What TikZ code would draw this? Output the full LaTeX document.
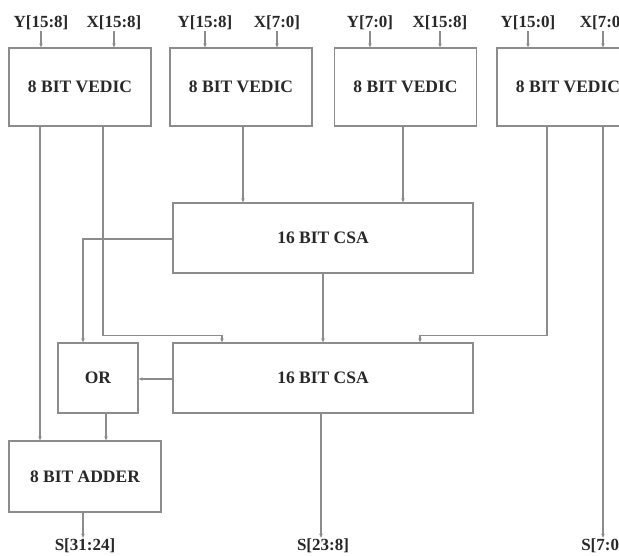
\documentclass[tikz,border=0pt]{standalone}
\usepackage{fontspec}
\setmainfont{Liberation Serif}
\usetikzlibrary{arrows.meta,calc}
\definecolor{ln}{RGB}{140,140,140}
\definecolor{tx}{RGB}{40,40,40}
\begin{document}
\begin{tikzpicture}[x=1pt,y=-1pt,
  blk/.style={draw=ln,line width=1.3pt,fill=white,text=tx,inner sep=0pt,
    font=\fontsize{17.5}{20}\selectfont\bfseries},
  io/.style={text=tx,inner sep=1pt,font=\fontsize{17}{19}\selectfont\bfseries},
  wire/.style={draw=ln,line width=1.2pt},
  arr/.style={wire,-{Stealth[length=4pt,width=3.5pt]}}]
\fill[white] (0,0) rectangle (619,556);
\useasboundingbox (0,0) rectangle (619,556);
\clip (0,0) rectangle (619,556);
% blocks
\node[blk,minimum width=142pt,minimum height=78pt] (V1) at (80,87) {8 BIT VEDIC};
\node[blk,minimum width=142pt,minimum height=78pt] (V2) at (241,87) {8 BIT VEDIC};
\node[blk,minimum width=142pt,minimum height=78pt] (V3) at (405.5,87) {8 BIT VEDIC};
\node[blk,minimum width=142pt,minimum height=78pt] (V4) at (568,87) {8 BIT VEDIC};
\node[blk,minimum width=300pt,minimum height=70pt] (C1) at (323,238) {16 BIT CSA};
\node[blk,minimum width=300pt,minimum height=70pt] (C2) at (323,378) {16 BIT CSA};
\node[blk,minimum width=80pt,minimum height=70pt] (OR) at (98,378) {OR};
\node[blk,minimum width=152pt,minimum height=71pt] (AD) at (85,476.5) {8 BIT ADDER};
% top labels
\node[io] (a1) at (41,23) {Y[15:8]};
\node[io] (b1) at (114,23) {X[15:8]};
\node[io] (a2) at (205,23) {Y[15:8]};
\node[io] (b2) at (277,23) {X[7:0]};
\node[io] (a3) at (370,23) {Y[7:0]};
\node[io] (b3) at (440,23) {X[15:8]};
\node[io] (a4) at (528,23) {Y[15:0]};
\node[io] (b4) at (603,23) {X[7:0]};
\foreach \l/\b in {a1/V1,b1/V1,a2/V2,b2/V2,a3/V3,b3/V3,a4/V4,b4/V4}
  \draw[arr] (\l.south) -- (\l.south |- \b.north);
% bottom labels
\node[io] (s1) at (85,546) {S[31:24]};
\node[io] (s2) at (323,546) {S[23:8]};
\node[io] (s3) at (603,546) {S[7:0]};
% wires
\draw[arr] ([xshift=-40pt]V1.south) -- ([xshift=-40pt]V1.south |- AD.north);
\draw[arr] ([xshift=23pt]V1.south) |- ++(0,209) -| ([xshift=-101pt]C2.north);
\draw[arr] ([xshift=2pt]V2.south) -- ([xshift=2pt]V2.south |- C1.north);
\draw[arr] ([xshift=-2.5pt]V3.south) -- ([xshift=-2.5pt]V3.south |- C1.north);
\draw[arr] ([yshift=-1pt]C1.west) -| (OR.north -| 83,0);
\draw[arr] (C1.south) -- (C2.north);
\draw[arr] ([xshift=-21pt]V4.south) |- ++(0,209) -| ([xshift=97pt]C2.north);
\draw[arr] ([xshift=35pt]V4.south) -- (s3.north);
\draw[arr] ([yshift=-1pt]C2.west) -- ([yshift=-1pt]OR.east);
\draw[arr] ([xshift=8pt]OR.south) -- ([xshift=8pt]OR.south |- AD.north);
\draw[arr] ([xshift=-2pt]AD.south) -- ([xshift=-2pt]AD.south |- s1.north);
\draw[arr] ([xshift=-2pt]C2.south) -- ([xshift=-2pt]C2.south |- s2.north);
\end{tikzpicture}
\end{document}
